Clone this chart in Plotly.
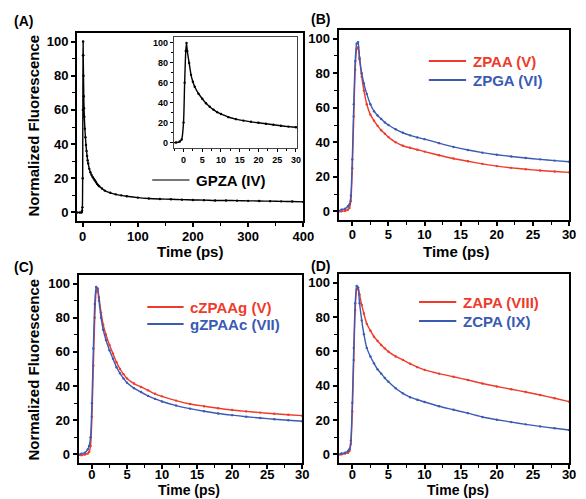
import plotly.graph_objects as go

# ---------------- data ----------------
# Panel A: GPZA (IV)
t_a = [-10, -5, -2, -1, -0.5, 0, 0.3, 0.6, 0.8, 1.0, 1.5, 2, 2.5, 3, 4, 5, 6, 7, 8, 9, 10,
       12, 14, 16, 18, 20, 22, 24, 26, 28, 30, 35, 40, 50, 60, 70, 80, 100, 120, 140, 160,
       180, 200, 220, 240, 260, 280, 300, 320, 340, 360, 380, 400]
gpza = [0, 0, 0, 1, 3, 20, 60, 92, 100, 92, 80, 68, 61, 56, 49, 44, 39.5, 36, 33, 30.5, 28.7,
        25.5, 23.5, 22, 20.8, 19.8, 18.8, 17.8, 16.8, 16, 15.3, 14, 12.8, 11.5, 10.6, 10, 9.5,
        8.7, 8.2, 7.9, 7.7, 7.5, 7.3, 7.2, 7.0, 7.0, 6.9, 6.8, 6.7, 6.6, 6.5, 6.4, 6.2]

# Panels B-D share one time grid (ps)
t_ps = [-2.0, -1.5, -1.0, -0.6, -0.4, -0.2, 0.0, 0.2, 0.4, 0.6, 0.8, 1.0, 1.3, 1.6, 2.0, 2.5,
        3.0, 3.5, 4.0, 4.5, 5.0, 6.0, 7.0, 8.0, 9.0, 10.0, 12.0, 14.0, 16.0, 18.0, 20.0, 22.0,
        24.0, 26.0, 28.0, 30.0]

zpaa = [-0.5, 0, 0.3, 1, 2, 6, 25, 55, 82, 94, 95, 88, 78, 70, 62, 56,
        52.5, 49.5, 47, 45, 43, 40, 38, 36.8, 35.7, 34.6, 32.5, 30.6, 29, 27.5, 26.2, 25.2,
        24.4, 23.7, 23.1, 22.6]
zpga = [0, 1, 1.5, 3, 4, 9, 30, 62, 87, 97, 98, 89, 80, 74, 68, 62,
        58, 55.5, 53.5, 51.5, 50, 47.5, 45.5, 44, 42.8, 41.8, 39.5, 37.3, 35.5, 34, 32.8, 31.8,
        30.9, 30.1, 29.4, 28.7]

czpaag = [-0.5, -0.5, 0, 0.5, 1.5, 5, 22, 52, 80, 95, 97, 92, 83, 76, 70, 64,
          59, 54, 50, 47, 44.5, 41.5, 39.5, 37.5, 35.5, 34, 31.5, 29.5, 28.2, 27, 26, 25.2,
          24.5, 23.8, 23.2, 22.7]
gzpaac = [0, 0.5, 1, 3, 5, 10, 30, 62, 88, 98, 97, 90, 80, 73, 67, 61,
          56, 51, 47.5, 44.5, 42, 38.8, 36.5, 34.3, 32.5, 31, 28.6, 26.8, 25.3, 24, 23, 22.1,
          21.3, 20.6, 20, 19.4]

zapa = [-0.5, 0, 0.5, 1, 2, 6, 25, 55, 84, 96, 97, 93, 87, 82, 76, 72,
        68.5, 66, 63.7, 61.7, 59.8, 57, 55, 52.8, 50.8, 49.2, 47, 45.2, 43.3, 41.3, 39.5, 37.9,
        36.3, 34.6, 32.7, 30.7]
zcpa = [0, 0.5, 1, 2, 3, 8, 30, 62, 88, 98, 97, 88, 78, 70, 62, 57,
        53, 49.5, 47, 44.5, 42.3, 38.5, 35.5, 33.3, 31.8, 30.5, 28, 26, 24, 21.8, 20.2, 18.8,
        17.5, 16.3, 15.2, 14.2]

RED = "#EE3B2B"
BLUE = "#3A5AB4"
FONT = "Liberation Sans, Arial, sans-serif"

# the page body has an 8px margin; the figure fills the rest of the 586x499 window
OFF = 8
W, H = 586 - OFF, 499 - OFF


def px(p):
    return (p - OFF) / W


def py(p):
    return 1 - (p - OFF) / H


fig = go.Figure()


def add_pair(t, y, color, ax):
    fig.add_trace(go.Scatter(x=t, y=y, mode="lines",
                             line=dict(color=color, width=1.4, shape="spline", smoothing=0.6),
                             xaxis="x" + ax, yaxis="y" + ax, showlegend=False, hoverinfo="skip"))
    fig.add_trace(go.Scatter(x=t, y=y, mode="markers", marker=dict(color=color, size=2.4),
                             xaxis="x" + ax, yaxis="y" + ax, showlegend=False))


# Panel A main + inset
add_pair(t_a, gpza, "black", "")
add_pair(t_a, gpza, "black", "5")
# Panel B
add_pair(t_ps, zpaa, RED, "2")
add_pair(t_ps, zpga, BLUE, "2")
# Panel C
add_pair(t_ps, czpaag, RED, "3")
add_pair(t_ps, gzpaac, BLUE, "3")
# Panel D
add_pair(t_ps, zapa, RED, "4")
add_pair(t_ps, zcpa, BLUE, "4")

common = dict(showline=True, linewidth=2, linecolor="black", mirror=True, ticks="outside",
              ticklen=4, tickwidth=1.5, tickcolor="black", showgrid=False, zeroline=False,
              tickfont=dict(family=FONT, size=13, color="black", weight="bold"))

minor = dict(ticks="outside", ticklen=3, tickwidth=1.2, tickcolor="black")
yax = dict(common, range=[-5, 105], tickmode="linear", tick0=0, dtick=20, minor=dict(minor, dtick=10))
xps = dict(common, range=[-1.9, 30], tickmode="linear", tick0=0, dtick=5, minor=dict(minor, dtick=2.5))

inset = dict(showline=True, linewidth=1, linecolor="#444", mirror=True, ticks="outside", ticklen=3,
             tickwidth=1, tickcolor="black", showgrid=False, zeroline=False,
             tickfont=dict(family=FONT, size=9, color="black", weight="bold"))
iminor = dict(ticks="outside", ticklen=2, tickwidth=1, tickcolor="black")

fig.update_layout(
    width=W, height=H, margin=dict(l=0, r=0, t=0, b=0),
    paper_bgcolor="white", plot_bgcolor="white", showlegend=False,
    xaxis=dict(common, domain=[px(78.5), px(309)], range=[-10, 400], tickmode="linear", tick0=0,
               dtick=100, minor=dict(minor, dtick=50), anchor="y", ticklabelstandoff=-2),
    yaxis=dict(yax, domain=[py(221), py(33)], anchor="x"),
    xaxis2=dict(xps, domain=[px(345), px(580)], anchor="y2", ticklabelstandoff=-3),
    yaxis2=dict(yax, domain=[py(220), py(30)], anchor="x2"),
    xaxis3=dict(xps, domain=[px(80), px(308)], anchor="y3", ticklabelstandoff=-6),
    yaxis3=dict(yax, domain=[py(463), py(275)], anchor="x3"),
    xaxis4=dict(xps, domain=[px(345), px(580)], anchor="y4", ticklabelstandoff=-6),
    yaxis4=dict(yax, domain=[py(463), py(274)], anchor="x4"),
    xaxis5=dict(inset, domain=[px(177), px(303)], range=[-2.6, 30.4], tickmode="linear", tick0=0,
                dtick=5, minor=dict(iminor, dtick=2.5), anchor="y5"),
    yaxis5=dict(inset, domain=[py(148), py(37)], range=[-5.5, 106], tickmode="linear", tick0=0,
                dtick=20, minor=dict(iminor, dtick=10), anchor="x5"),
)

ann = []


def text(x, y, s, size=15, color="black", xanchor="center", angle=0):
    ann.append(dict(x=px(x), y=py(y), xref="paper", yref="paper", text=s, showarrow=False,
                    xanchor=xanchor, yanchor="middle", textangle=angle,
                    font=dict(family=FONT, size=size, color=color, weight="bold")))


# panel labels
text(12, 21, "(A)", 14, xanchor="left")
text(315, 19, "(B)", 14, xanchor="left")
text(12, 267, "(C)", 14, xanchor="left")
text(315, 266, "(D)", 14, xanchor="left")

# axis titles
text(33, 126, "Normalized Fluorescence", 15, angle=-90)
text(33, 370, "Normalized Fluorescence", 15, angle=-90)
text(194, 251, "Time (ps)", 15)
text(465, 251, "Time (ps)", 15)
text(193, 490, "Time (ps)", 14)
text(467, 490, "Time (ps)", 14)

shapes = []


def legend_item(x0, x1, y, label, color, line_color=None):
    shapes.append(dict(type="line", xref="paper", yref="paper", x0=px(x0), x1=px(x1), y0=py(y), y1=py(y),
                       line=dict(color=line_color or color, width=2)))
    text(x1 + 5, y, label, 15, color=color, xanchor="left")


legend_item(155, 193, 180, "GPZA (IV)", "black", line_color="#777")
legend_item(437, 475, 61, "ZPAA (V)", RED)
legend_item(437, 475, 80, "ZPGA (VI)", BLUE)
legend_item(150, 187, 307, "cZPAAg (V)", RED)
legend_item(150, 187, 324, "gZPAAc (VII)", BLUE)
legend_item(427, 465, 302, "ZAPA (VIII)", RED)
legend_item(427, 465, 321, "ZCPA (IX)", BLUE)

fig.update_layout(annotations=ann, shapes=shapes)

fig.write_html("out.html")
